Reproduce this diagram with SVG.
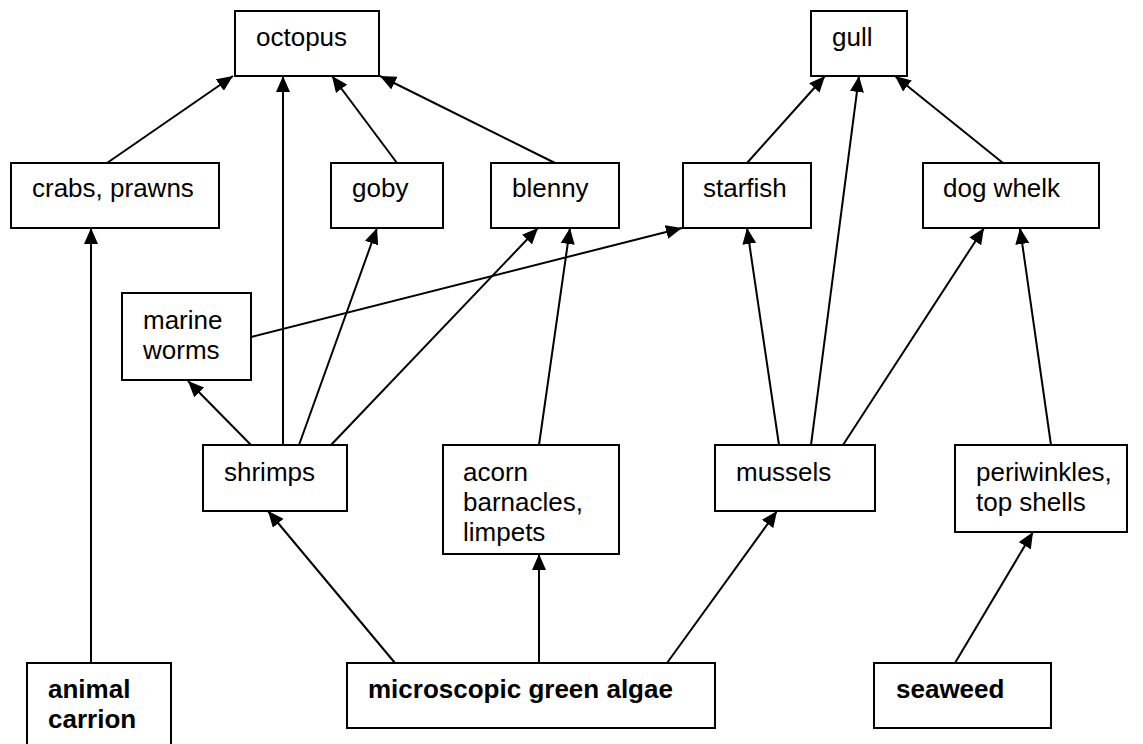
<svg xmlns="http://www.w3.org/2000/svg" width="1143" height="744" viewBox="0 0 1143 744">
<style>
  .box { fill: #fff; stroke: #000; stroke-width: 2; }
  .t { font-family: "Liberation Sans", Arial, sans-serif; font-size: 26px; fill: #000; }
  .b { font-weight: bold; }
  .c line { stroke: #000; stroke-width: 2; marker-end: url(#ah); }
</style>
<defs>
  <marker id="ah" markerUnits="userSpaceOnUse" viewBox="0 0 16 14" refX="16" refY="7" markerWidth="16" markerHeight="14" orient="auto">
    <path d="M0,0 L16,7 L0,14 z" fill="#000"/>
  </marker>
</defs>
<rect width="1143" height="744" fill="#fff"/>
<g id="octopus"><rect class="box" x="235" y="11" width="144" height="65"/><text class="t" x="256" y="46">octopus</text></g>
<g id="gull"><rect class="box" x="811" y="11" width="96" height="65"/><text class="t" x="832" y="46">gull</text></g>
<g id="crabs-prawns"><rect class="box" x="11" y="163" width="208" height="65"/><text class="t" x="32" y="197">crabs, prawns</text></g>
<g id="goby"><rect class="box" x="331" y="163" width="112" height="65"/><text class="t" x="352" y="197">goby</text></g>
<g id="blenny"><rect class="box" x="491" y="163" width="128" height="65"/><text class="t" x="512" y="197">blenny</text></g>
<g id="starfish"><rect class="box" x="683" y="163" width="128" height="65"/><text class="t" x="703" y="197">starfish</text></g>
<g id="dog-whelk"><rect class="box" x="923" y="163" width="176" height="65"/><text class="t" x="943" y="197">dog whelk</text></g>
<g id="marine-worms"><rect class="box" x="122" y="293" width="129" height="87"/><text class="t" x="143" y="329">marine</text><text class="t" x="143" y="359">worms</text></g>
<g id="shrimps"><rect class="box" x="203" y="445" width="144" height="66"/><text class="t" x="224" y="481">shrimps</text></g>
<g id="acorn-barnacles"><rect class="box" x="443" y="445" width="176" height="109"/><text class="t" x="463" y="481">acorn</text><text class="t" x="463" y="511">barnacles,</text><text class="t" x="463" y="541">limpets</text></g>
<g id="mussels"><rect class="box" x="715" y="445" width="160" height="66"/><text class="t" x="736" y="481">mussels</text></g>
<g id="periwinkles"><rect class="box" x="955" y="445" width="172" height="87"/><text class="t" x="976" y="481">periwinkles,</text><text class="t" x="976" y="511">top shells</text></g>
<g id="animal-carrion"><rect class="box" x="27" y="663" width="144" height="100"/><text class="t b" x="48" y="698">animal</text><text class="t b" x="48" y="728">carrion</text></g>
<g id="algae"><rect class="box" x="347" y="663" width="368" height="65"/><text class="t b" x="368" y="698">microscopic green algae</text></g>
<g id="seaweed"><rect class="box" x="874" y="663" width="177" height="65"/><text class="t b" x="896" y="698">seaweed</text></g>
<g id="connectors" class="c">
  <line x1="107" y1="163" x2="233" y2="76"/>
  <line x1="283" y1="445" x2="283" y2="76"/>
  <line x1="397" y1="163" x2="332" y2="76"/>
  <line x1="555" y1="163" x2="380" y2="76"/>
  <line x1="91" y1="663" x2="91" y2="228"/>
  <line x1="299" y1="445" x2="377" y2="228"/>
  <line x1="331" y1="445" x2="538" y2="228"/>
  <line x1="539" y1="445" x2="570" y2="228"/>
  <line x1="251" y1="337" x2="682" y2="228"/>
  <line x1="251" y1="445" x2="188" y2="381"/>
  <line x1="747" y1="163" x2="825" y2="76"/>
  <line x1="811" y1="445" x2="859" y2="76"/>
  <line x1="1003" y1="163" x2="895" y2="76"/>
  <line x1="779" y1="445" x2="747" y2="228"/>
  <line x1="843" y1="445" x2="984" y2="228"/>
  <line x1="1051" y1="445" x2="1020" y2="228"/>
  <line x1="395" y1="663" x2="268" y2="511"/>
  <line x1="539" y1="663" x2="539" y2="554"/>
  <line x1="667" y1="663" x2="777" y2="511"/>
  <line x1="955" y1="663" x2="1033" y2="532"/>
</g>
</svg>
